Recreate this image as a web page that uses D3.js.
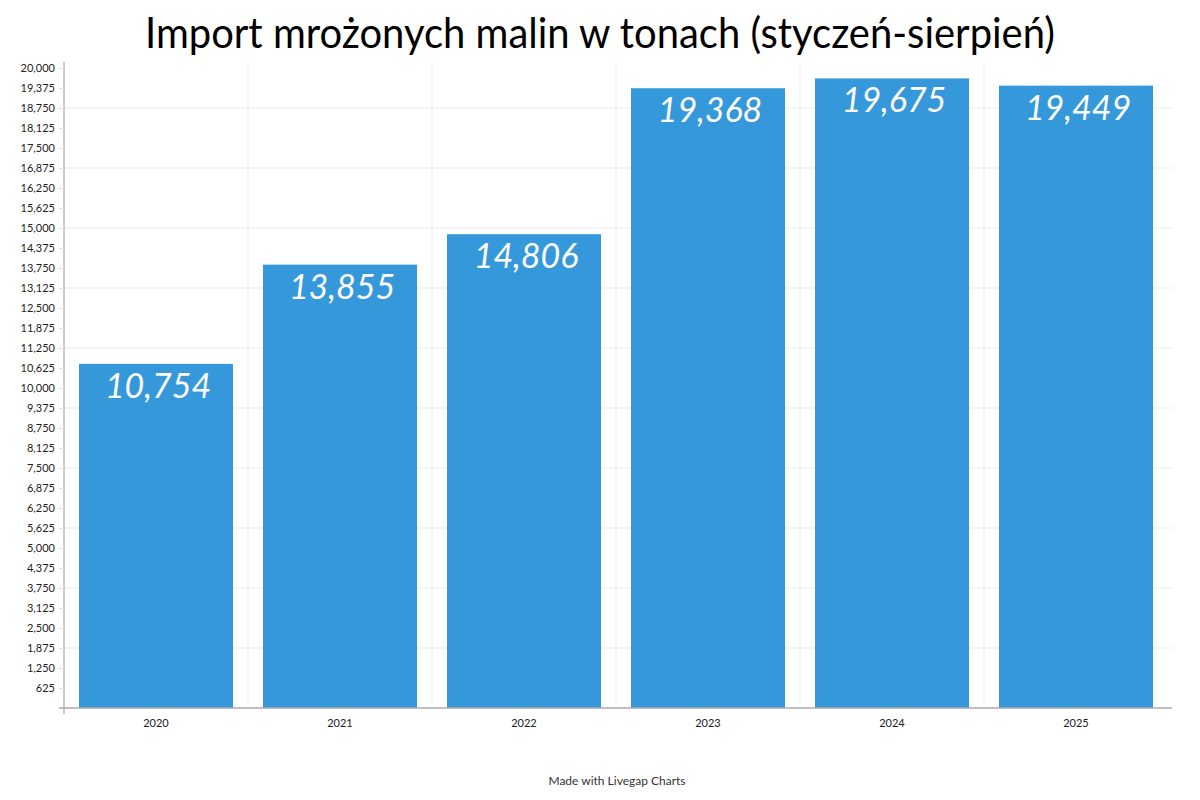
<!DOCTYPE html>
<html><head><meta charset="utf-8">
<script src="https://cdn.jsdelivr.net/npm/d3@7"></script>
<style>body{margin:0;background:#fff;font-family:Lato,sans-serif;}</style>
</head><body>
<svg id="c" width="1200" height="800"></svg>
<script>
const title = "Import mrożonych malin w tonach (styczeń-sierpień)";
const categories = ["2020","2021","2022","2023","2024","2025"];
const values = [10754, 13855, 14806, 19368, 19675, 19449];
const yMax = 20000;
const yStep = 625;
const footer = "Made with Livegap Charts";

const svg = d3.select("#c");
const m = {l:64, r:1168, t:68, b:708};
const pIn = 0.163, pOut = 0.0815;
const x = d3.scaleBand().domain(categories).range([m.l, m.r]).paddingInner(pIn).paddingOuter(pOut);
const y = d3.scaleLinear().domain([0, yMax]).range([m.b, m.t]);
const ticks = d3.range(yStep, yMax + 1, yStep);
const step = x.step();

// horizontal gridlines every 3 ticks
svg.append("g").selectAll("line").data(ticks.filter(t => t % (yStep*3) === 0)).join("line")
  .attr("x1", m.l).attr("x2", 1172).attr("y1", d => y(d)).attr("y2", d => y(d))
  .attr("stroke", "#ebebeb").attr("stroke-width", 1);
// vertical gridlines at band boundaries
svg.append("g").selectAll("line").data(categories.slice(1)).join("line")
  .attr("x1", d => x(d) - step*pIn/2).attr("x2", d => x(d) - step*pIn/2)
  .attr("y1", m.t - 6).attr("y2", m.b)
  .attr("stroke", "#ebebeb").attr("stroke-width", 1);

// bars
svg.append("g").selectAll("rect").data(values).join("rect")
  .attr("x", (d,i) => x(categories[i])).attr("width", x.bandwidth())
  .attr("y", d => y(d)).attr("height", d => y(0) - y(d))
  .attr("fill", "#3598db");

// value labels
svg.append("g").selectAll("text").data(values).join("text")
  .attr("x", (d,i) => x(categories[i]) + x.bandwidth()/2 + 2)
  .attr("y", d => y(d) + 34)
  .attr("text-anchor", "middle").attr("fill", "#fff")
  .attr("font-style", "italic").attr("font-size", 34)
  .text(d => d3.format(",")(d));

// y axis
const yAxis = d3.axisLeft(y).tickValues(ticks).tickSize(5).tickPadding(4).tickFormat(d3.format(","));
const gy = svg.append("g").attr("transform", `translate(${m.l},0)`).call(yAxis);
gy.select(".domain").attr("d", `M0,${m.t-6}V${m.b+6}`).attr("stroke", "#999");
gy.selectAll(".tick line").attr("stroke", "#e0e0e0");
gy.selectAll(".tick text").attr("font-family", "Lato").attr("font-size", 11).attr("fill", "#222");

// x axis
const xAxis = d3.axisBottom(x).tickSize(0).tickPadding(11);
const gx = svg.append("g").attr("transform", `translate(0,${m.b})`).call(xAxis);
gx.select(".domain").attr("d", `M${m.l-5},0H1172`).attr("stroke", "#aaa").attr("stroke-width", 1.5);
gx.selectAll(".tick text").attr("font-family", "Lato").attr("font-size", 11).attr("fill", "#222");

// title
svg.append("text").attr("x", 600).attr("y", 48).attr("text-anchor", "middle")
  .attr("font-size", 42).attr("fill", "#000")
  .attr("textLength", 910).attr("lengthAdjust", "spacingAndGlyphs").text(title);

// footer
svg.append("text").attr("x", 617).attr("y", 785).attr("text-anchor", "middle")
  .attr("font-size", 12).attr("fill", "#333").text(footer);
</script>
</body></html>
